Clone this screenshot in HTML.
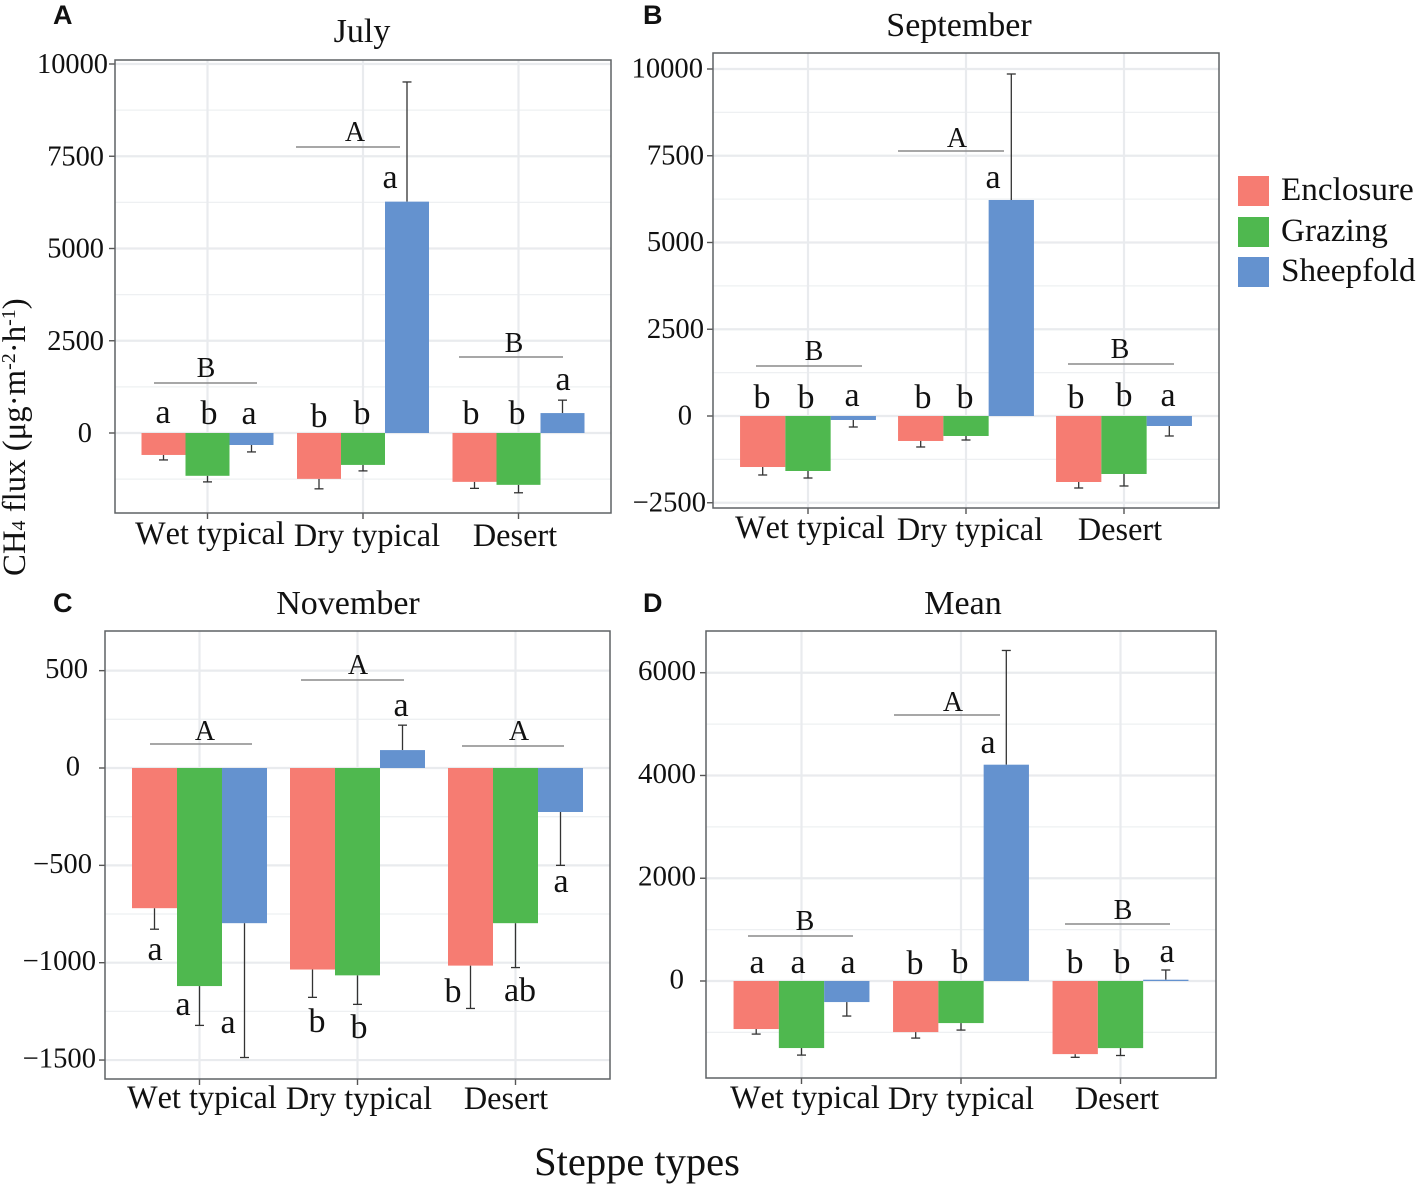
<!DOCTYPE html>
<html lang="en">
<head>
<meta charset="utf-8">
<title>CH4 flux by steppe type</title>
<style>
html,body{margin:0;padding:0;background:#fff;width:1417px;height:1185px;overflow:hidden}
svg{display:block}
text{font-family:"Liberation Serif","DejaVu Serif",serif;fill:#111;font-kerning:none}
.panel-letter{font-family:"Liberation Sans","DejaVu Sans",sans-serif;font-weight:700;font-size:27px}
</style>
</head>
<body>
<svg id="chart" xmlns="http://www.w3.org/2000/svg" width="1417" height="1185" viewBox="0 0 1417 1185">
  <text x="637" y="1175" font-size="40.5" text-anchor="middle">Steppe types</text>
  <text transform="translate(25,576) rotate(-90)" font-size="32.8">CH<tspan font-size="20">4</tspan> flux (μg·m<tspan font-size="20" dy="-10">-2</tspan><tspan dy="10">·h</tspan><tspan font-size="20" dy="-10">-1</tspan><tspan dy="10">)</tspan></text>
  <g>
    <rect x="1238" y="176" width="31" height="30" fill="#F67C72"/>
    <text x="1281" y="200" font-size="33.2">Enclosure</text>
    <rect x="1238" y="217" width="31" height="30" fill="#4FB84F"/>
    <text x="1281" y="241" font-size="33.2">Grazing</text>
    <rect x="1238" y="257" width="31" height="30" fill="#6492CF"/>
    <text x="1281" y="281" font-size="33.2">Sheepfold</text>
  </g>
</svg>
<script>
// ---- chart data ----
const categories = ["Wet typical", "Dry typical", "Desert"];
const seriesNames = ["Enclosure", "Grazing", "Sheepfold"];
const seriesColors = ["#F67C72", "#4FB84F", "#6492CF"];

// each row is one steppe type: [Enclosure, Grazing, Sheepfold]
const julyMeans = [[-595, -1160, -325], [-1243, -865, 6270], [-1324, -1405, 540]];
const julyErrorEnds = [[-730, -1325, -513], [-1513, -1027, 9513], [-1500, -1620, 890]];
const julyTicks = [10000, 7500, 5000, 2500, 0];
const julyTickLabels = ["10000", "7500", "5000", "2500", "0"];

const septemberMeans = [[-1470, -1585, -115], [-720, -576, 6225], [-1902, -1671, -288]];
const septemberErrorEnds = [[-1700, -1787, -317], [-893, -692, 9856], [-2075, -2017, -576]];
const septemberTicks = [10000, 7500, 5000, 2500, 0, -2500];
const septemberTickLabels = ["10000", "7500", "5000", "2500", "0", "\u22122500"];

const novemberMeans = [[-720, -1120, -797], [-1035, -1065, 92], [-1015, -797, -226]];
const novemberErrorEnds = [[-828, -1322, -1487], [-1178, -1214, 220], [-1235, -1025, -500]];
const novemberTicks = [500, 0, -500, -1000, -1500];
const novemberTickLabels = ["500", "0", "\u2212500", "\u22121000", "\u22121500"];

const meanMeans = [[-935, -1305, -410], [-994, -819, 4210], [-1423, -1306, 25]];
const meanErrorEnds = [[-1033, -1442, -682], [-1111, -955, 6433], [-1485, -1450, 214]];
const meanTicks = [6000, 4000, 2000, 0];
const meanTickLabels = ["6000", "4000", "2000", "0"];

// significance letters per bar
const julyLetters = [["a", "b", "a"], ["b", "b", "a"], ["b", "b", "a"]];
const septemberLetters = [["b", "b", "a"], ["b", "b", "a"], ["b", "b", "a"]];
const novemberLetters = [["a", "a", "a"], ["b", "b", "a"], ["b", "ab", "a"]];
const meanLetters = [["a", "a", "a"], ["b", "b", "a"], ["b", "b", "a"]];

const julyGroupLetters = ["B", "A", "B"];
const septemberGroupLetters = ["B", "A", "B"];
const novemberGroupLetters = ["A", "A", "A"];
const meanGroupLetters = ["B", "A", "B"];

// ---- panel layout (pixels, not data) ----
const panels = [
  { key: "july", tag: "A", tagX: 53, tagY: 24, title: "July", titleX: 362, titleY: 42,
    means: julyMeans, ends: julyErrorEnds, ticks: julyTicks, tickLabels: julyTickLabels,
    letters: julyLetters, groupLetters: julyGroupLetters,
    box: [115, 60, 611, 513], zeroY: 433, pxPerUnit: 0.0369,
    cat0: 207.5, catStep: 155.5, barW: 44, tickFont: 28.4, tickDy: 9,
    labelRights: [108, 104, 104, 104, 92],
    catLabels: [[210, 544], [367, 546], [515, 546]],
    letterPos: [[[163, 423], [209, 424], [249, 424]], [[319, 427], [362, 424], [390, 188]], [[471, 424], [517, 424], [563, 390]]],
    sig: [[154, 257, 383, 206, 377], [296, 400, 147, 355, 141], [459, 563, 357, 514, 352]] },
  { key: "september", tag: "B", tagX: 643, tagY: 24, title: "September", titleX: 959, titleY: 36,
    means: septemberMeans, ends: septemberErrorEnds, ticks: septemberTicks, tickLabels: septemberTickLabels,
    letters: septemberLetters, groupLetters: septemberGroupLetters,
    box: [713, 53, 1219, 508], zeroY: 416, pxPerUnit: 0.0347,
    cat0: 808, catStep: 158, barW: 45.3, tickFont: 28.6, tickDy: 8.5,
    labelRights: [703, 704, 704, 704, 692, 706],
    catLabels: [[810, 538], [970, 540], [1120, 540]],
    letterPos: [[[762, 408], [806, 408], [852, 406]], [[923, 408], [965, 408], [993, 188]], [[1076, 408], [1124, 406], [1168, 406]]],
    sig: [[756, 862, 366, 814, 360], [898, 1004, 151, 957, 147], [1068, 1174, 364, 1120, 358]] },
  { key: "november", tag: "C", tagX: 53, tagY: 612, title: "November", titleX: 348, titleY: 614,
    means: novemberMeans, ends: novemberErrorEnds, ticks: novemberTicks, tickLabels: novemberTickLabels,
    letters: novemberLetters, groupLetters: novemberGroupLetters,
    box: [105, 631, 610, 1079], zeroY: 768, pxPerUnit: 0.1947,
    cat0: 199.5, catStep: 158, barW: 45, tickFont: 28.6, tickDy: 7.5,
    labelRights: [88, 80, 92, 96, 96],
    catLabels: [[202, 1108], [359, 1109], [506, 1109]],
    letterPos: [[[155, 960], [183, 1015], [228, 1033]], [[317, 1032], [359, 1038], [401, 716]], [[453, 1002], [520, 1001], [561, 892]]],
    sig: [[150, 252, 744, 205, 740], [301, 404, 680, 358, 674], [462, 564, 746, 519, 740]] },
  { key: "mean", tag: "D", tagX: 643, tagY: 612, title: "Mean", titleX: 963, titleY: 614,
    means: meanMeans, ends: meanErrorEnds, ticks: meanTicks, tickLabels: meanTickLabels,
    letters: meanLetters, groupLetters: meanGroupLetters,
    box: [706, 631, 1216, 1078], zeroY: 981, pxPerUnit: 0.05138,
    cat0: 801.5, catStep: 159.5, barW: 45.3, tickFont: 29, tickDy: 7.5,
    labelRights: [696, 696, 696, 684],
    catLabels: [[805, 1108], [961, 1109], [1117, 1109]],
    letterPos: [[[757, 973], [798, 973], [848, 973]], [[915, 974], [960, 973], [988, 753]], [[1075, 973], [1122, 973], [1167, 962]]],
    sig: [[748, 853, 936, 805, 930], [894, 1000, 715, 953, 711], [1065, 1170, 924, 1123, 919]] }
];

const SVGNS = "http://www.w3.org/2000/svg";
const root = document.getElementById("chart");

function make(tag, attrs, parent, content) {
  const node = document.createElementNS(SVGNS, tag);
  for (const k in attrs) node.setAttribute(k, attrs[k]);
  if (content !== undefined) node.textContent = content;
  parent.appendChild(node);
  return node;
}

function drawPanel(p) {
  const yOf = v => p.zeroY - v * p.pxPerUnit;
  const catX = c => p.cat0 + c * p.catStep;
  const barX = (c, s) => catX(c) + (s - 1.5) * p.barW;
  const [x0, y0, x1, y1] = p.box;
  let el;

  const g = make("g", {}, root);
  
  

  el = make("text", { class: "panel-letter", x: p.tagX, y: p.tagY }, g, p.tag);
  
  

  el = make("text", { x: p.titleX, y: p.titleY, "font-size": 34, "text-anchor": "middle" }, g, p.title);
  
  

  el = make("rect", { x: x0, y: y0, width: x1 - x0, height: y1 - y0, fill: "#fff" }, g);
  
  

  // minor gridlines halfway between major ticks, extended to the panel edges
  const step = Math.abs(p.ticks[0] - p.ticks[1]);
  const top = (p.zeroY - y0) / p.pxPerUnit;
  const bottom = (p.zeroY - y1) / p.pxPerUnit;
  for (let v = Math.ceil(bottom / (step / 2)) * (step / 2); v <= top; v += step / 2) {
    if (p.ticks.indexOf(v) >= 0) continue;
    el = make("line", { x1: x0, x2: x1, y1: yOf(v), y2: yOf(v), stroke: "#eef0f2", "stroke-width": 1.3 }, g);
    
    
  }
  p.ticks.forEach((t, i) => {
    el = make("line", { x1: x0, x2: x1, y1: yOf(t), y2: yOf(t), stroke: "#e9ebee", "stroke-width": 2.2 }, g);
    
    
    el = make("line", { x1: x0 - 6, x2: x0, y1: yOf(t), y2: yOf(t), stroke: "#555", "stroke-width": 1.4 }, g);
    
    
    el = make("text", { x: p.labelRights[i], y: yOf(t) + p.tickDy, "font-size": p.tickFont, "text-anchor": "end" }, g, p.tickLabels[i]);
    
    
  });
  categories.forEach((name, c) => {
    el = make("line", { x1: catX(c), x2: catX(c), y1: y0, y2: y1, stroke: "#e9ebee", "stroke-width": 2.2 }, g);
    
    
    el = make("line", { x1: catX(c), x2: catX(c), y1: y1, y2: y1 + 6, stroke: "#555", "stroke-width": 1.4 }, g);
    
    
    el = make("text", { x: p.catLabels[c][0], y: p.catLabels[c][1], "font-size": 32.3, "text-anchor": "middle" }, g, name);
    
    
  });

  // error bars, then bars
  categories.forEach((name, c) => {
    seriesNames.forEach((sName, s) => {
      const cx = barX(c, s) + p.barW / 2;
      const v = p.means[c][s];
      const e = p.ends[c][s];
      el = make("line", { x1: cx, x2: cx, y1: yOf(v), y2: yOf(e), stroke: "#333", "stroke-width": 1.3 }, g);
      
      
      el = make("line", { x1: cx - 4.5, x2: cx + 4.5, y1: yOf(e), y2: yOf(e), stroke: "#333", "stroke-width": 1.3 }, g);
      
      
    });
  });
  categories.forEach((name, c) => {
    seriesNames.forEach((sName, s) => {
      const v = p.means[c][s];
      el = make("rect", { x: barX(c, s), y: Math.min(yOf(v), yOf(0)), width: p.barW, height: Math.abs(yOf(v) - yOf(0)), fill: seriesColors[s] }, g);
      
      
      el = make("text", { x: p.letterPos[c][s][0], y: p.letterPos[c][s][1], "font-size": 34, "text-anchor": "middle" }, g, p.letters[c][s]);
      
      
    });
    const sig = p.sig[c];
    el = make("line", { x1: sig[0], x2: sig[1], y1: sig[2], y2: sig[2], stroke: "#8a8a8a", "stroke-width": 1.5 }, g);
    
    
    el = make("text", { x: sig[3], y: sig[4], "font-size": 28, "text-anchor": "middle" }, g, p.groupLetters[c]);
    
    
  });

  el = make("rect", { x: x0, y: y0, width: x1 - x0, height: y1 - y0, fill: "none", stroke: "#5f6265", "stroke-width": 1.5 }, g);
  
  
}

panels.forEach(drawPanel);
</script>
</body>
</html>
